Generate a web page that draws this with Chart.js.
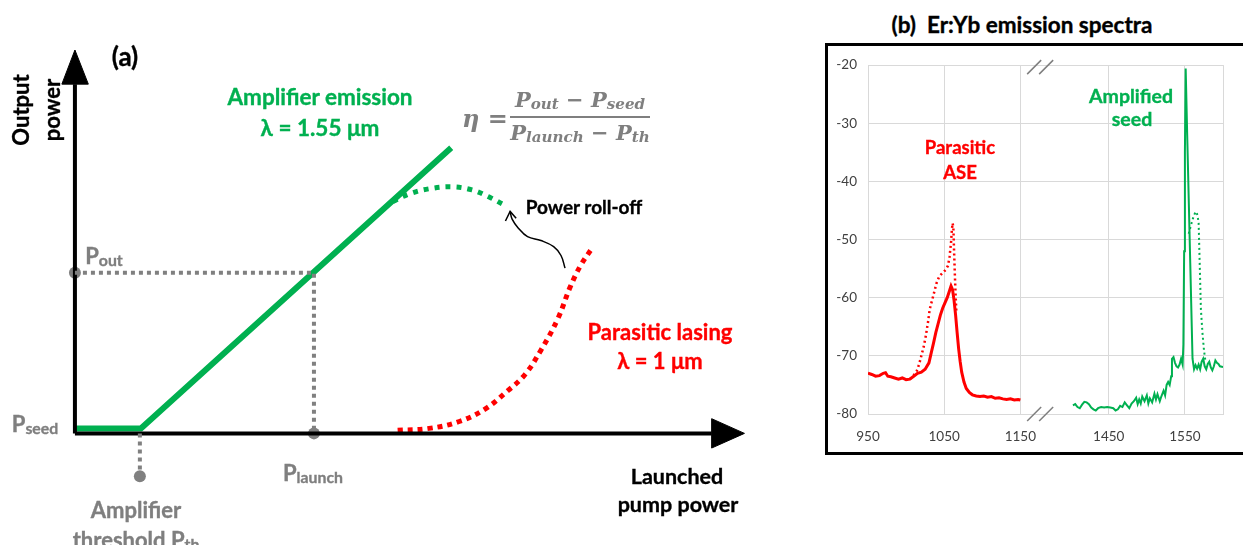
<!DOCTYPE html>
<html>
<head>
<meta charset="utf-8">
<script src="https://cdn.jsdelivr.net/npm/chart.js@4.4.1/dist/chart.umd.min.js"></script>
<style>
  body { margin: 0; width: 1243px; height: 545px; overflow: hidden; background: #fff; position: relative; font-family: Lato, 'Open Sans', sans-serif; }
  canvas { position: absolute; }
  #schema { left: 0; top: 0; }
  #spectra { left: 828px; top: 46px; }
  .box { position: absolute; left: 825px; top: 43px; width: 500px; height: 406px; border: 3px solid #000; }
  .t { position: absolute; font-weight: bold; white-space: nowrap; line-height: 1; transform: translate(-50%, -50%); -webkit-text-stroke: 0.35px currentColor; }
  .green { color: #00b050; }
  .red { color: #ff0000; }
  .gray { color: #7f7f7f; }
  .rot { transform: translate(-50%, -50%) rotate(-90deg); }
  sub { font-size: 0.72em; vertical-align: -0.12em; }
  .eq { position: absolute; color: #7f7f7f; font-family: 'DejaVu Serif', serif; font-style: italic; font-weight: bold; }
  .frac { position: absolute; left: 510px; top: 87px; width: 140px; text-align: center; font-size: 21px; }
  .frac .num { display: block; padding-bottom: 3px; border-bottom: 2px solid #7f7f7f; }
  .frac .den { display: block; padding-top: 2px; }
</style>
</head>
<body>
<div class="box"></div>
<canvas id="schema" width="780" height="545"></canvas>
<canvas id="spectra" width="410" height="406"></canvas>

<div class="t" style="left:125px;top:56px;font-size:26px">(a)</div>
<div class="t rot" style="left:21px;top:110px;font-size:22px">Output</div>
<div class="t rot" style="left:52px;top:110px;font-size:22px">power</div>
<div class="t green" style="left:320px;top:97px;font-size:22.5px">Amplifier emission</div>
<div class="t green" style="left:320px;top:128px;font-size:22.5px">λ = 1.55 μm</div>
<div class="t gray" style="left:104px;top:256px;font-size:22px">P<sub>out</sub></div>
<div class="t gray" style="left:35px;top:424px;font-size:22px">P<sub>seed</sub></div>
<div class="t gray" style="left:313px;top:473px;font-size:22px">P<sub>launch</sub></div>
<div class="t gray" style="left:136px;top:510px;font-size:22px">Amplifier</div>
<div class="t gray" style="left:136px;top:540px;font-size:22px">threshold P<sub>th</sub></div>
<div class="t" style="left:584px;top:206px;font-size:19px">Power roll-off</div>
<div class="t red" style="left:660px;top:332px;font-size:22px">Parasitic lasing</div>
<div class="t red" style="left:660px;top:361px;font-size:22px">λ = 1 μm</div>
<div class="t" style="left:677px;top:477px;font-size:21.5px">Launched</div>
<div class="t" style="left:678px;top:505px;font-size:21.5px">pump power</div>

<div class="eq" style="left:462px;top:104px;font-size:24px">η =</div>
<div class="eq frac"><span class="num">P<sub>out</sub> − P<sub>seed</sub></span><span class="den">P<sub>launch</sub> − P<sub>th</sub></span></div>

<div class="t" style="left:1022px;top:25px;font-size:22.5px">(b)&nbsp; Er:Yb emission spectra</div>
<div class="t red" style="left:960px;top:147px;font-size:18.5px">Parasitic</div>
<div class="t red" style="left:960px;top:172px;font-size:18.5px">ASE</div>
<div class="t green" style="left:1131px;top:96px;font-size:19.5px">Amplified</div>
<div class="t green" style="left:1132px;top:119px;font-size:19.5px">seed</div>

<script>
// ---- (a) schematic, arbitrary units: pump power 0..100, output power 0..100
const ampLine = [[0, 1.3], [9.85, 1.3], [56.2, 74.5]];
const rollOff = [[47.5, 60.5], [50.0, 62.5], [52.9, 63.8], [56.3, 64.3], [59.3, 63.5], [61.8, 61.7], [64.0, 59.7]];
const parasitic = [[48.2, 0.8], [52.9, 1.3], [57.4, 3.1], [61.3, 6.4], [64.7, 11.2], [67.2, 15.3], [69.6, 21.7], [72.1, 29.8], [74.0, 38.3], [75.6, 44.0], [77.4, 48.7]];
const pOut = 41.9;
const pLaunch = 35.7;
const pTh = 9.7;
const thDrop = -11.2;
const squiggle = [[65.0, 57.9], [65.3, 55.9], [66.2, 53.6], [67.6, 51.3], [69.6, 50.3], [71.5, 48.7], [72.6, 46.4], [73.2, 43.1]];
const squiggleHead = [[64.3, 55.4], [65.0, 57.9], [65.9, 56.1]];

// ---- (b) spectra, wavelength in nm, level in dB
const redSolidNm = [950, 955, 960, 965, 970, 973, 976, 980, 985, 990, 995, 1000, 1005, 1010, 1015, 1020, 1025, 1030, 1033, 1036, 1039, 1042, 1045, 1048, 1051, 1054, 1057, 1059, 1061, 1063, 1065, 1067, 1069, 1071, 1073, 1076, 1079, 1083, 1087, 1092, 1097, 1102, 1107, 1112, 1117, 1122, 1127, 1132, 1137, 1142, 1147, 1150];
const redSolidDb = [-73.0, -73.2, -73.5, -73.4, -73.0, -72.9, -73.5, -73.6, -73.8, -74.0, -73.8, -74.1, -74.0, -73.5, -73.0, -72.8, -72.3, -71.2, -69.5, -67.8, -66.0, -64.5, -63.0, -61.8, -60.9, -60.0, -58.8, -58.0, -58.6, -60.5, -63.0, -66.0, -68.8, -71.0, -72.8, -74.5, -75.6, -76.3, -76.7, -76.9, -77.0, -76.9, -77.1, -77.0, -77.3, -77.2, -77.4, -77.5, -77.4, -77.6, -77.5, -77.6];
const redDotNm = [1005, 1010, 1014, 1017, 1020, 1023, 1026, 1029, 1031, 1034, 1037, 1040, 1043, 1046, 1049, 1052, 1055, 1057, 1059, 1060, 1061, 1062, 1063, 1064, 1065, 1066];
const redDotDb = [-74.0, -73.3, -72.6, -71.5, -70.0, -68.5, -66.5, -64.0, -62.0, -60.5, -59.0, -57.5, -56.5, -56.0, -55.6, -55.2, -54.5, -53.0, -50.5, -48.5, -47.2, -47.8, -52.0, -56.0, -59.5, -62.5];
const greenSolidNm = [1403, 1406, 1409, 1412, 1415, 1418, 1421, 1424, 1427, 1430, 1433, 1436, 1440, 1444, 1448, 1452, 1456, 1459, 1462, 1465, 1468, 1471, 1474, 1477, 1480, 1483, 1486, 1488, 1490, 1492, 1494, 1497, 1500, 1502, 1504, 1507, 1510, 1512, 1514, 1517, 1519, 1522, 1524, 1526, 1528, 1530, 1532, 1533, 1535, 1537, 1539, 1541, 1543, 1545, 1547, 1548, 1549, 1550, 1551, 1553, 1555, 1557, 1559, 1560, 1562, 1564, 1566, 1568, 1570, 1572, 1574, 1576, 1578, 1580, 1582, 1584, 1586, 1588, 1590, 1592, 1594, 1596, 1600];
const greenSolidDb = [-78.5, -78.3, -78.8, -79.0, -78.4, -77.9, -78.0, -78.3, -78.9, -79.2, -79.4, -79.0, -78.8, -78.9, -78.8, -78.9, -79.0, -79.4, -79.2, -78.6, -78.8, -78.0, -78.5, -79.0, -78.2, -77.8, -77.2, -78.3, -77.5, -78.2, -77.0, -77.8, -76.8, -78.2, -77.3, -78.0, -76.5, -77.5, -76.6, -77.8, -77.0, -76.0, -76.8, -75.0, -74.5, -75.0, -73.5, -70.5, -70.2, -71.2, -71.8, -72.0, -71.5, -70.5, -71.5, -68.0, -52.0, -35.0, -20.6, -32.0, -43.0, -54.0, -65.0, -70.5, -72.3, -71.6, -72.2, -71.5, -72.3, -71.0, -70.5, -71.8, -72.3, -71.4, -71.0, -72.0, -72.5, -71.8, -70.8, -71.2, -71.4, -71.8, -71.9];
const greenDotNm = [1555, 1558, 1561, 1564, 1566, 1568, 1569, 1570, 1571, 1573, 1575, 1577];
const greenDotDb = [-49.0, -47.5, -46.2, -45.2, -45.6, -47.0, -52.0, -57.0, -62.0, -66.0, -69.0, -71.0];
const xTickLabels = [950, 1050, 1150, 1450, 1550];
const breakGap = 184; // nm removed between 1150 and 1450 on the broken axis
const xEnd = 1600;

const GREEN = '#00b050';
const RED = '#ff0000';
const GRAY = '#808080';

const pts = arr => arr.map(([x, y]) => ({ x, y }));
const onAxis = nm => (nm > 1300 ? nm - breakGap : nm);
const spectrum = (nms, dbs) => nms.map((nm, i) => ({ x: onAxis(nm), y: dbs[i] }));

function lineSet(data, color, width, dash, tension) {
  return {
    data: data,
    showLine: true,
    borderColor: color,
    borderWidth: width,
    borderDash: dash || [],
    borderCapStyle: 'butt',
    pointRadius: 0,
    tension: tension || 0,
    fill: false
  };
}

function arrowHead(data) {
  return {
    data: data,
    showLine: true,
    borderColor: '#000',
    borderWidth: 1,
    backgroundColor: '#000',
    pointRadius: 0,
    fill: 'shape'
  };
}

new Chart(document.getElementById('schema'), {
  type: 'scatter',
  data: {
    datasets: [
      lineSet(pts([[pTh, 0], [pTh, thDrop]]), GRAY, 4, [4, 4]),
      lineSet(pts([[0, pOut], [pLaunch, pOut], [pLaunch, 0]]), GRAY, 4, [4, 4]),
      lineSet(pts([[0, 0], [0, 91.1]]), '#000', 4),
      lineSet(pts([[0, 0], [95.1, 0]]), '#000', 4),
      arrowHead(pts([[-1.95, 91.1], [0, 100], [2.0, 91.1], [-1.95, 91.1]])),
      arrowHead(pts([[95.1, 3.83], [100, 0], [95.1, -3.83], [95.1, 3.83]])),
      lineSet(pts(parasitic), RED, 5, [5, 5], 0.4),
      lineSet(pts(rollOff), GREEN, 5, [5, 6], 0.4),
      lineSet(pts(ampLine), GREEN, 6),
      lineSet(pts(squiggle), '#000', 1.5, [], 0.4),
      lineSet(pts(squiggleHead), '#000', 1.5),
      {
        data: pts([[0, pOut], [pLaunch, 0], [pTh, thDrop]]),
        pointRadius: 6,
        pointBackgroundColor: GRAY,
        pointBorderWidth: 0
      }
    ]
  },
  options: {
    responsive: false,
    animation: false,
    clip: false,
    layout: { padding: 0 },
    plugins: { legend: { display: false }, tooltip: { enabled: false } },
    scales: {
      x: { type: 'linear', display: false, min: -70 / 6.8, max: 710 / 6.8 },
      y: { type: 'linear', display: false, min: -108 / 3.92, max: 437 / 3.92 }
    }
  }
});

const breakMarks = {
  id: 'breakMarks',
  afterDraw(chart) {
    const { ctx, scales } = chart;
    const cx = scales.x.getPixelForValue(1176);
    ctx.save();
    ctx.strokeStyle = '#7f7f7f';
    ctx.lineWidth = 1.5;
    [scales.y.getPixelForValue(-20) + 2, scales.y.getPixelForValue(-80)].forEach(cy => {
      [-6, 6].forEach(off => {
        ctx.beginPath();
        ctx.moveTo(cx + off - 7, cy + 7);
        ctx.lineTo(cx + off + 7, cy - 7);
        ctx.stroke();
      });
    });
    ctx.restore();
  }
};

new Chart(document.getElementById('spectra'), {
  type: 'scatter',
  data: {
    datasets: [
      lineSet(spectrum(redDotNm, redDotDb), RED, 2.5, [2, 3]),
      lineSet(spectrum(redSolidNm, redSolidDb), RED, 3),
      lineSet(spectrum(greenDotNm, greenDotDb), GREEN, 2, [2, 3]),
      lineSet(spectrum(greenSolidNm, greenSolidDb), GREEN, 2)
    ]
  },
  options: {
    responsive: false,
    animation: false,
    layout: { padding: { top: 17, right: 14, left: 0, bottom: 0 } },
    plugins: { legend: { display: false }, tooltip: { enabled: false } },
    scales: {
      x: {
        type: 'linear',
        min: 950,
        max: onAxis(xEnd),
        afterBuildTicks: axis => {
          axis.ticks = xTickLabels.map(v => ({ value: onAxis(v) })).concat([{ value: onAxis(xEnd) }]);
        },
        afterFit: axis => { axis.height = 38; },
        ticks: {
          autoSkip: false,
          maxRotation: 0,
          padding: 15,
          color: '#404040',
          font: { family: 'Lato', size: 13.5 },
          callback: v => {
            const label = xTickLabels.find(l => onAxis(l) === v);
            return label === undefined ? '' : String(label);
          }
        },
        grid: { color: '#d9d9d9', drawTicks: false },
        border: { color: '#d9d9d9' }
      },
      y: {
        min: -80,
        max: -20,
        afterFit: axis => { axis.width = 40; },
        ticks: { stepSize: 10, padding: 11, color: '#404040', font: { family: 'Lato', size: 13.5 } },
        grid: { color: '#d9d9d9', drawTicks: false },
        border: { color: '#d9d9d9' }
      }
    }
  },
  plugins: [breakMarks]
});
</script>
</body>
</html>
